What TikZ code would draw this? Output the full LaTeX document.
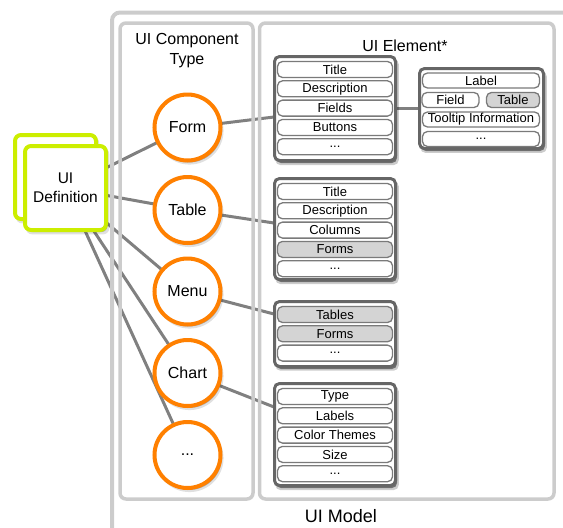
\documentclass[tikz,border=0pt]{standalone}
\usepackage{fontspec}
\setmainfont{Liberation Sans}
\usetikzlibrary{shadows,backgrounds}
\definecolor{framegray}{HTML}{CCCCCC}
\definecolor{boxgray}{HTML}{666666}
\definecolor{rowgray}{HTML}{7A7A7A}
\definecolor{hlgray}{HTML}{D4D4D4}
\definecolor{linegray}{HTML}{808080}
\definecolor{orng}{HTML}{FF8000}
\definecolor{limeg}{HTML}{CCEE00}
\newcommand\myrowfont{\fontsize{13}{15}\selectfont}
\newcommand\mycircfont{\fontsize{16}{18}\selectfont}
\newcommand\myhdrfont{\fontsize{16}{20}\selectfont}
\tikzset{
  frame/.style={draw=framegray, line width=3.5pt, rounded corners=6pt},
  conn/.style={draw=linegray, line width=3pt},
  softshadow/.style={
    drop shadow={shadow xshift=2pt, shadow yshift=-3pt, opacity=0.12, fill=black, shadow scale=1.03},
    drop shadow={shadow xshift=1.5pt, shadow yshift=-2pt, opacity=0.25, fill=black}},
  comp/.style={circle, draw=orng, line width=4pt, fill=white, minimum size=66pt, inner sep=0pt, font=\mycircfont,
    softshadow},
  defsq/.style={draw=limeg, line width=4pt, fill=white, rounded corners=6pt, minimum width=81pt, minimum height=84pt,
    align=center, font=\fontsize{15.5}{19}\selectfont, softshadow},
  listbox/.style={draw=boxgray, line width=3pt, fill=white, rounded corners=5pt, inner sep=0pt,
    drop shadow={shadow xshift=2pt, shadow yshift=-3.5pt, opacity=0.2, fill=black, shadow scale=1.02},
    drop shadow={shadow xshift=1.5pt, shadow yshift=-2.5pt, opacity=0.45, fill=black}},
  rowbox/.style={draw=rowgray, line width=1.3pt, fill=white, rounded corners=5pt, minimum width=115pt,
    minimum height=16pt, inner sep=0pt, font=\myrowfont},
  hirow/.style={rowbox, fill=hlgray},
  subrow/.style={rowbox, minimum height=15pt, minimum width=117pt},
  hdr/.style={align=center, font=\myhdrfont, inner sep=0pt}
}
\begin{document}
\begin{tikzpicture}[x=1pt,y=-1pt]
\useasboundingbox (0,0) rectangle (563,528);
\clip (0,0) rectangle (563,528);
% frames
\draw[frame, line width=4pt, rounded corners=8pt] (112,12.5) rectangle (590,560);
\draw[frame] (120,23) rectangle (253,499);
\draw[frame] (259.5,23) rectangle (554,499);

\node[hdr] (ctype) at (187,51) {UI Component\\Type};
\node[hdr] (elem) at (405,46) {UI Element*};
\node[hdr, font=\fontsize{18}{22}\selectfont] (model) at (341,516) {UI Model};

% UI definition
\node[defsq] (defback) at (55.5,177) {};
\node[defsq] (def) at (65.5,188) {UI\\Definition};

% components
\node[comp] (form) at (187.5,127.5) {Form};
\node[comp] (table) at (187.5,210) {Table};
\node[comp] (menu) at (187.5,291.5) {Menu};
\node[comp] (chart) at (187.5,373) {Chart};
\node[comp] (more) at (187.5,455) {...};

% Form box
\node[listbox, minimum width=121pt, minimum height=104pt] (formbox) at (335,108.5) {};
\node[rowbox] (f1) at (335,69.5) {Title};
\node[rowbox] (f2) at (335,88.8) {Description};
\node[rowbox] (f3) at (335,108.1) {Fields};
\node[rowbox] (f4) at (335,127.4) {Buttons};
\node[rowbox] (f5) at (335,146.7) {...};

% Fields sub box
\node[listbox, minimum width=124pt, minimum height=80pt] (subbox) at (481.5,108.5) {};
\node[subrow] (s1) at (481,80.5) {Label};
\node[subrow, minimum width=57pt] (s2) at (450.5,100) {Field};
\node[subrow, minimum width=53pt, fill=hlgray] (s3) at (513,100) {Table};
\node[subrow] (s4) at (481,119.5) {Tooltip Information};
\node[subrow] (s5) at (481,139) {...};

% Table box
\node[listbox, minimum width=121pt, minimum height=101pt] (tablebox) at (335,229) {};
\node[rowbox] (t1) at (335,191.5) {Title};
\node[rowbox] (t2) at (335,210.8) {Description};
\node[rowbox] (t3) at (335,230.1) {Columns};
\node[hirow] (t4) at (335,249.4) {Forms};
\node[rowbox] (t5) at (335,268.7) {...};

% Menu box
\node[listbox, minimum width=121pt, minimum height=65pt] (menubox) at (335,334) {};
\node[hirow] (m1) at (335,314.5) {Tables};
\node[hirow] (m2) at (335,333.8) {Forms};
\node[rowbox] (m3) at (335,353.1) {...};

% Chart box
\node[listbox, minimum width=121pt, minimum height=102pt] (chartbox) at (335,434.5) {};
\node[rowbox] (c1) at (335,396.5) {Type};
\node[rowbox] (c2) at (335,415.8) {Labels};
\node[rowbox] (c3) at (335,435.1) {Color Themes};
\node[rowbox] (c4) at (335,454.4) {Size};
\node[rowbox] (c5) at (335,473.7) {...};

\coordinate (formin) at (274,117);
\coordinate (tablein) at (274,223);
\coordinate (menuin) at (274,314);
\coordinate (chartin) at (274,407);

\begin{scope}[on background layer]
  \draw[conn] (def.center) -- (form.center);
  \draw[conn] (def.center) -- (table.center);
  \draw[conn] (def.center) -- (menu.center);
  \draw[conn] (def.center) -- (chart.center);
  \draw[conn] (def.center) -- (more.center);
  \draw[conn] (form.center) -- (formin);
  \draw[conn] (table.center) -- (tablein);
  \draw[conn] (menu.center) -- (menuin);
  \draw[conn] (chart.center) -- (chartin);
  \draw[conn] (f3.center) -- (subbox.west |- f3.center);
\end{scope}
\end{tikzpicture}
\end{document}
